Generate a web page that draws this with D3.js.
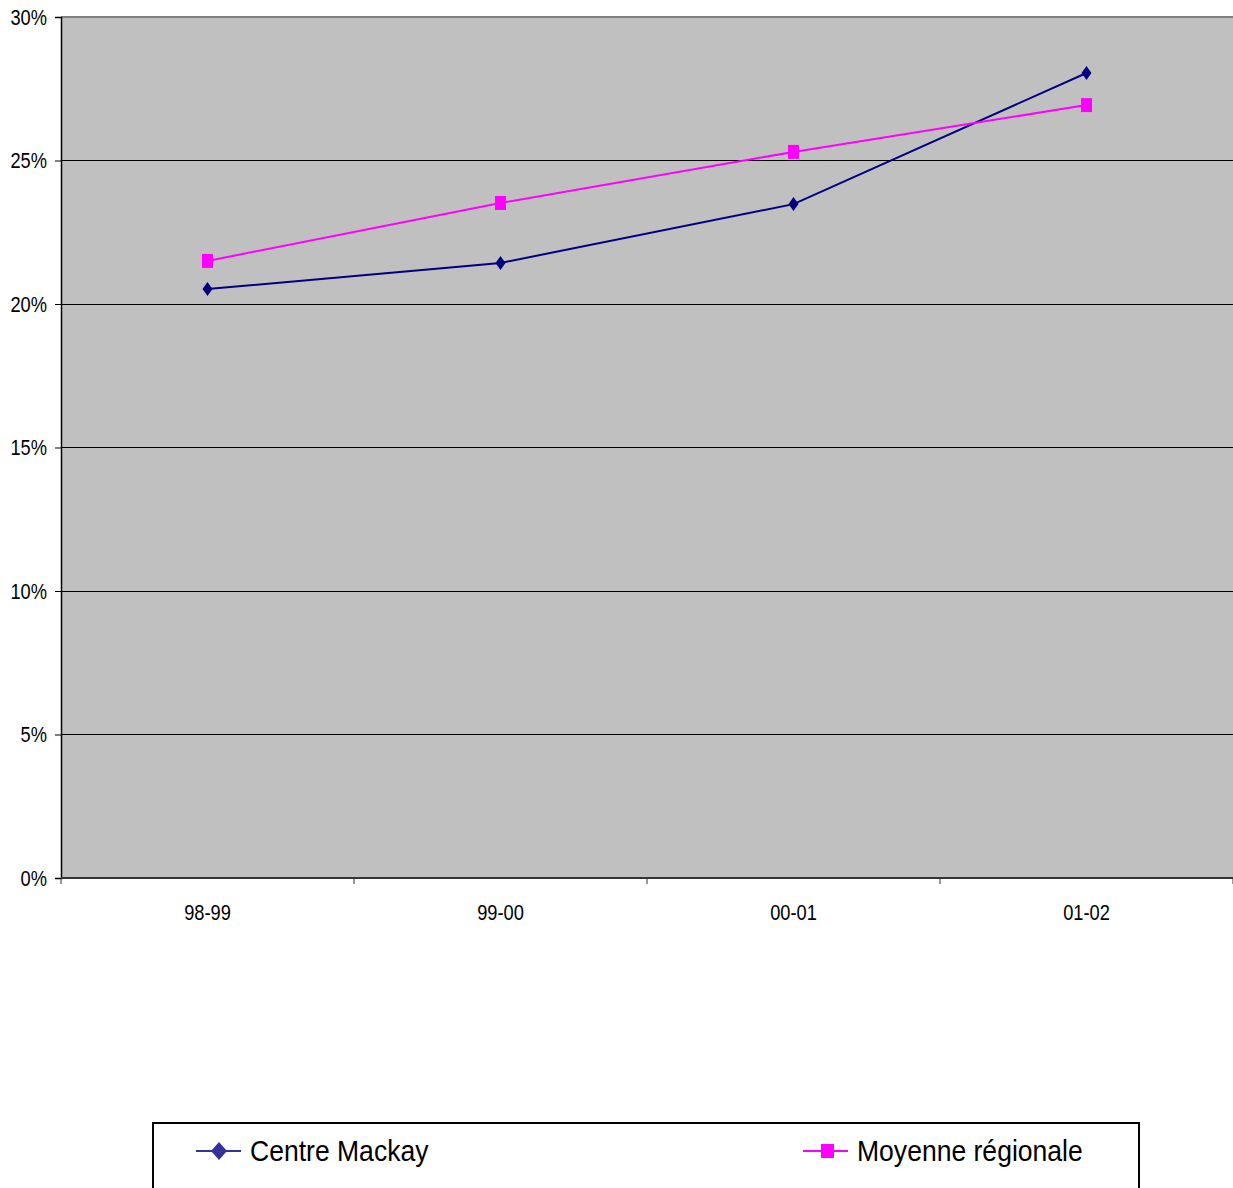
<!DOCTYPE html>
<html><head><meta charset="utf-8">
<script src="https://cdn.jsdelivr.net/npm/d3@7"></script>
<style>body{margin:0;background:#fff;} svg{display:block;font-family:"Liberation Sans",Arial,sans-serif;}</style>
</head><body><svg id="c" width="1233" height="1188"></svg>
<script>
const categories = ["98-99","99-00","00-01","01-02"];
const centreMackay = [20.52, 21.43, 23.48, 28.05];
const moyenneRegionale = [21.50, 23.52, 25.30, 26.93];
const yTicks = [0,5,10,15,20,25,30];
const seriesNames = ["Centre Mackay","Moyenne régionale"];

const svg = d3.select("#c");
const L=61, R=1233, T=17, B=878;
const SX = 0.83;
const x = d3.scaleBand().domain(categories).range([L,R]).padding(0);
const y = d3.scaleLinear().domain([0,30]).range([B,T]);

svg.append("rect").attr("x",L).attr("y",T).attr("width",R-L).attr("height",B-T).attr("fill","#c0c0c0");
// gridlines
svg.append("g").selectAll("line").data(yTicks.filter(d=>d>0&&d<30)).join("line")
  .attr("x1",L).attr("x2",R).attr("y1",d=>y(d)).attr("y2",d=>y(d)).attr("stroke","#000").attr("stroke-width",1).attr("shape-rendering","crispEdges");
svg.append("line").attr("x1",L).attr("x2",R).attr("y1",T).attr("y2",T).attr("stroke","#808080").attr("stroke-width",2);

// y axis
const ya = svg.append("g").attr("transform",`translate(${L},0)`)
  .call(d3.axisLeft(y).tickValues(yTicks).tickSize(6).tickPadding(8).tickFormat(d=>d+"%"));
ya.select(".domain").attr("stroke","#000").attr("stroke-width",1.5);
ya.selectAll(".tick line").attr("stroke","#000");
ya.selectAll("text").attr("font-size",22).attr("fill","#000").attr("font-family","Liberation Sans, Arial, sans-serif")
  .attr("x",-14/SX).attr("transform",`scale(${SX},1)`);

// x axis
const xa = svg.append("g").attr("transform",`translate(0,${B})`)
  .call(d3.axisBottom(x).tickSize(0).tickPadding(26));
xa.select(".domain").remove();
xa.selectAll("text").attr("font-size",22).attr("fill","#000").attr("font-family","Liberation Sans, Arial, sans-serif")
  .attr("transform",`scale(${SX},1)`);
svg.append("line").attr("x1",L).attr("x2",R).attr("y1",B).attr("y2",B).attr("stroke","#333").attr("stroke-width",2);
svg.append("g").selectAll("line").data(categories.map(c=>x(c)).concat([R])).join("line")
  .attr("x1",d=>d).attr("x2",d=>d).attr("y1",B).attr("y2",B+6).attr("stroke","#333").attr("stroke-width",1);

const cx = c => x(c)+x.bandwidth()/2;
const line = d3.line().x((d,i)=>cx(categories[i])).y(d=>y(d));
const diamond = "M0,-7L5,0L0,7L-5,0Z";

svg.append("path").datum(centreMackay).attr("d",line).attr("fill","none").attr("stroke","#000080").attr("stroke-width",2);
svg.append("path").datum(moyenneRegionale).attr("d",line).attr("fill","none").attr("stroke","#ff00ff").attr("stroke-width",2);
svg.append("g").selectAll("path").data(centreMackay).join("path")
  .attr("d",diamond).attr("transform",(d,i)=>`translate(${cx(categories[i])},${y(d)})`).attr("fill","#000080");
svg.append("g").selectAll("rect").data(moyenneRegionale).join("rect")
  .attr("x",(d,i)=>cx(categories[i])-5.5).attr("y",d=>y(d)-7).attr("width",11).attr("height",14).attr("fill","#ff00ff");

// legend
svg.append("rect").attr("x",153).attr("y",1123).attr("width",986).attr("height",80).attr("fill","#fff").attr("stroke","#000").attr("stroke-width",2);
const lg = [{name:seriesNames[0],x:196,color:"#333399",shape:"d"},{name:seriesNames[1],x:803,color:"#ff00ff",shape:"s"}];
const LSX = 0.885;
lg.forEach(o=>{
  const g = svg.append("g");
  g.append("line").attr("x1",o.x).attr("x2",o.x+45).attr("y1",1151).attr("y2",1151).attr("stroke",o.color).attr("stroke-width",2);
  if(o.shape==="d") g.append("path").attr("d","M0,-9L8,0L0,9L-8,0Z").attr("transform",`translate(${o.x+23},1151)`).attr("fill",o.color);
  else g.append("rect").attr("x",o.x+18).attr("y",1144).attr("width",13).attr("height",14).attr("fill",o.color);
  g.append("text").attr("x",(o.x+54)/LSX).attr("y",1161).attr("transform",`scale(${LSX},1)`)
    .attr("font-size",30).attr("fill","#000").text(o.name);
});
</script></body></html>
